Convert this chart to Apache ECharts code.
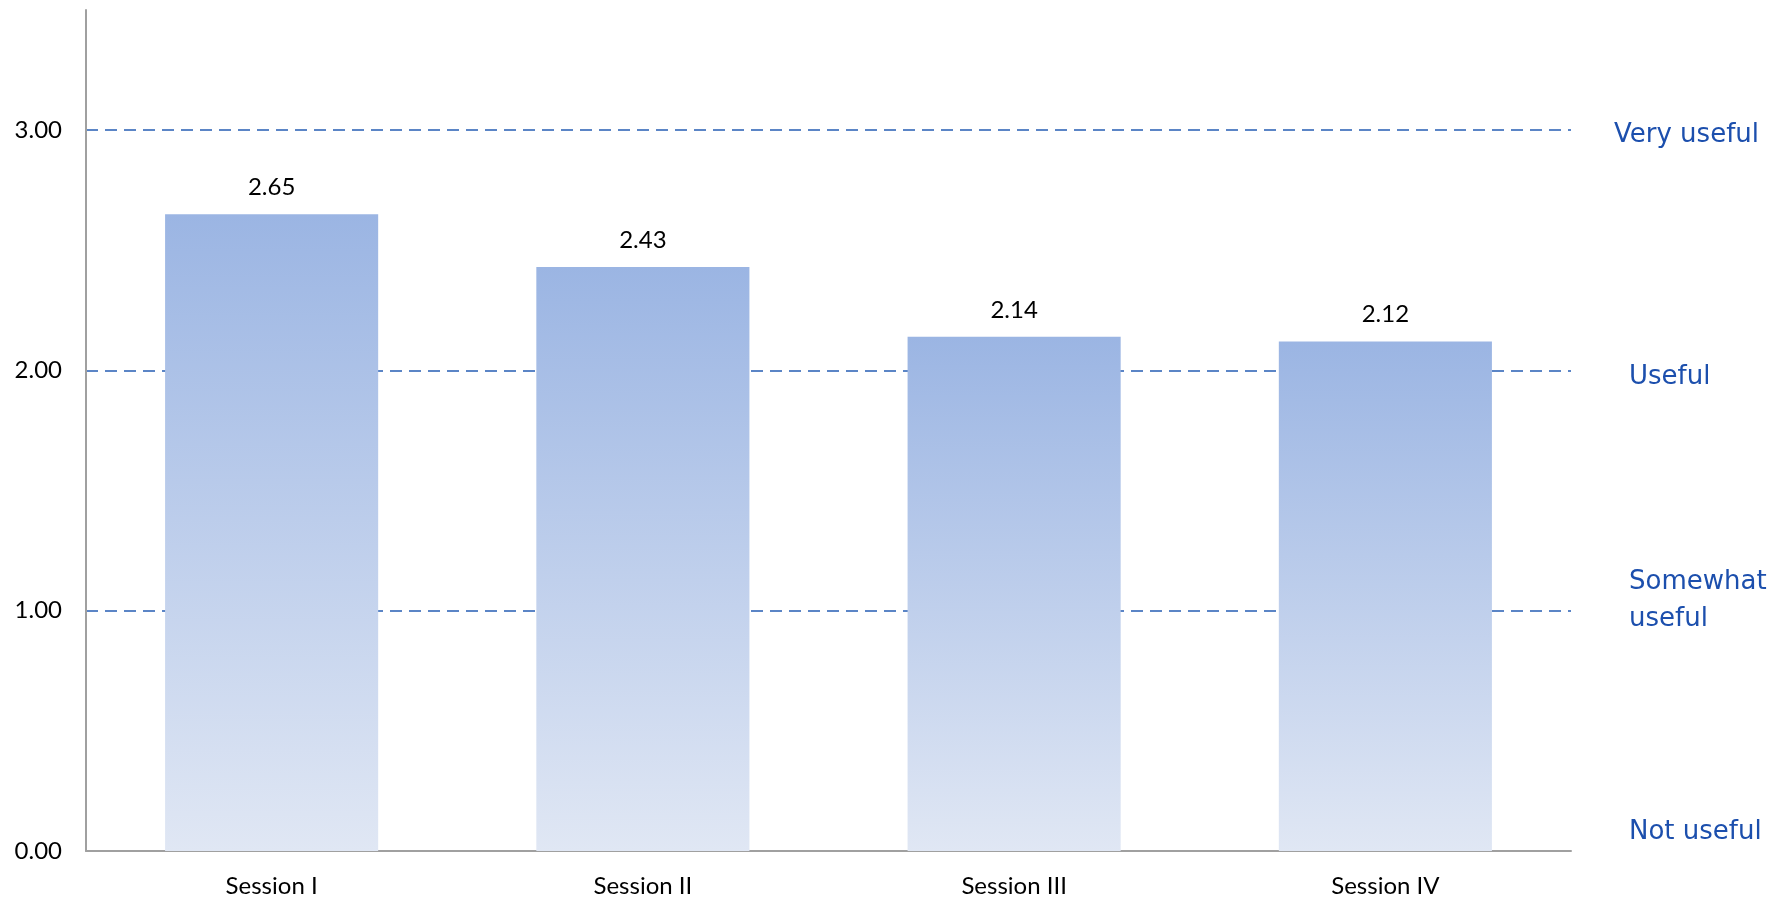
<!DOCTYPE html>
<html>
<head>
<meta charset="utf-8">
<script src="https://cdn.jsdelivr.net/npm/echarts@6/dist/echarts.min.js"></script>
<style>
  html, body { margin: 0; padding: 0; background: #fff; }
  #chart { width: 1774px; height: 897px; }
</style>
</head>
<body>
<div id="chart"></div>
<script>
var sessions = ['Session I', 'Session II', 'Session III', 'Session IV'];
var scores = [2.65, 2.43, 2.14, 2.12];
var ratingLabels = ['Not useful', 'Somewhat useful', 'Useful', 'Very useful'];

var blue = '#1c4fad';
function ratingStyle(padding) {
    return { color: blue, fontFamily: 'DejaVu Sans', fontSize: 26, lineHeight: 30, padding: padding };
}
var richStyles = {
    n: ratingStyle([0, 0, 38, 15]),
    u: ratingStyle([14, 0, 0, 15]),
    v: ratingStyle([10, 0, 0, 0]),
    s1: ratingStyle([0, 0, 56, 15]),
    s2: ratingStyle([18, 0, 0, 15])
};

// right side rating axes share the same scale as the value axis
function ratingAxis(formatter) {
    return {
        type: 'value',
        position: 'right',
        min: 0,
        max: 3.5,
        interval: 1,
        axisLine: { show: false },
        axisTick: { show: false },
        splitLine: { show: false },
        axisLabel: { margin: 43, rich: richStyles, formatter: formatter }
    };
}
var somewhatParts = ratingLabels[1].split(' ');

var myChart = echarts.init(document.getElementById('chart'));
var option = {
    animation: false,
    grid: { left: 86, right: 203, top: 10, bottom: 46, outerBoundsMode: 'none' },
    xAxis: {
        type: 'category',
        data: sessions,
        axisTick: { show: false },
        axisLine: { lineStyle: { color: '#a0a0a0', width: 2 } },
        axisLabel: { color: '#000', fontFamily: 'Lato', fontSize: 24, margin: 23 }
    },
    yAxis: [
        {
            type: 'value',
            min: 0,
            max: 3.5,
            interval: 1,
            axisLine: { show: true, lineStyle: { color: '#a0a0a0', width: 2 } },
            axisTick: { show: false },
            axisLabel: {
                color: '#000', fontFamily: 'Lato', fontSize: 24, margin: 24,
                formatter: function (v) { return v % 1 === 0 ? v.toFixed(2) : ''; }
            },
            splitLine: {
                show: true,
                lineStyle: {
                    color: ['rgba(0,0,0,0)', '#5b85c6', '#5b85c6', '#5b85c6', 'rgba(0,0,0,0)'],
                    type: [12, 7],
                    width: 2
                }
            }
        },
        ratingAxis(function (v) {
            if (v === 0) return '{n|' + ratingLabels[0] + '}';
            if (v === 2) return '{u|' + ratingLabels[2] + '}';
            if (v === 3) return '{v|' + ratingLabels[3] + '}';
            return '';
        }),
        ratingAxis(function (v) {
            return v === 1 ? '{s1|' + somewhatParts[0] + '}' : '';
        }),
        ratingAxis(function (v) {
            return v === 1 ? '{s2|' + somewhatParts[1] + '}' : '';
        })
    ],
    series: [{
        type: 'bar',
        data: scores,
        barWidth: '57.4%',
        itemStyle: {
            color: new echarts.graphic.LinearGradient(0, 0, 0, 1, [
                { offset: 0, color: '#9bb5e3' },
                { offset: 1, color: '#e0e7f4' }
            ])
        },
        label: {
            show: true,
            position: 'top',
            distance: 15,
            color: '#000',
            fontFamily: 'Lato',
            fontSize: 24,
            formatter: function (p) { return p.value.toFixed(2); }
        }
    }]
};
myChart.setOption(option);
</script>
</body>
</html>
